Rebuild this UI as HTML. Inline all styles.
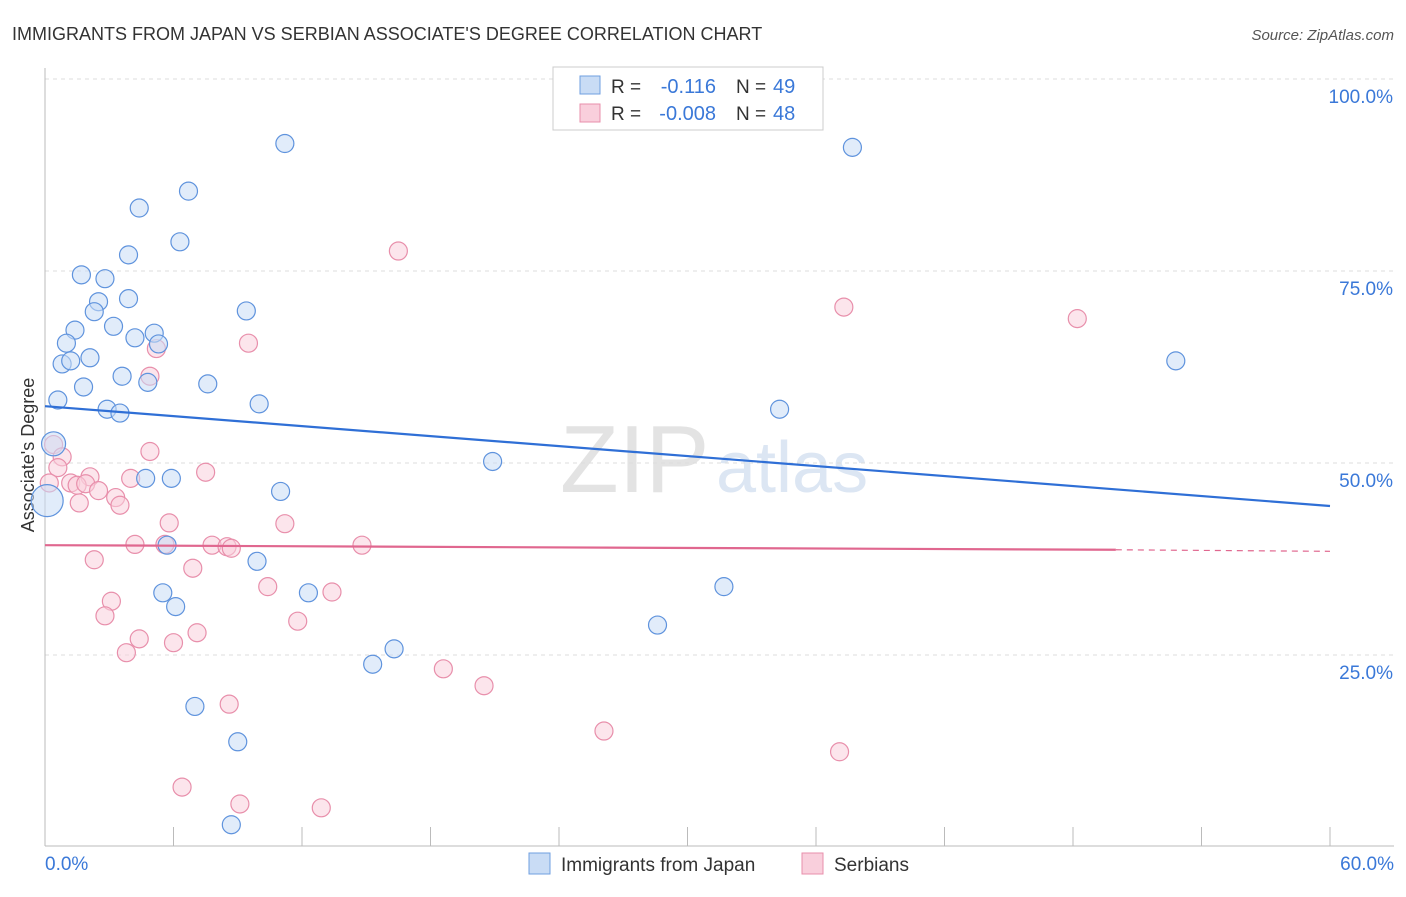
<!DOCTYPE html>
<html><head><meta charset="utf-8"><style>
body{margin:0;background:#fff;font-family:"Liberation Sans",sans-serif;}
svg text{font-family:"Liberation Sans",sans-serif;}
</style></head><body>
<svg id="chart" width="1406" height="892" xmlns="http://www.w3.org/2000/svg">
<text x="12" y="40" font-size="18" fill="#333">IMMIGRANTS FROM JAPAN VS SERBIAN ASSOCIATE'S DEGREE CORRELATION CHART</text>
<text x="1394" y="40" font-size="15" fill="#555" text-anchor="end" font-style="italic">Source: ZipAtlas.com</text>
<text x="560" y="492" font-size="96" fill="#e3e3e3" font-family="Liberation Serif">ZIP</text>
<text x="716" y="492" font-size="72" fill="#dce6f3">atlas</text>
<g id="grid"></g>
<g id="axes"></g>
<text transform="translate(34,455) rotate(-90)" font-size="18" fill="#333" text-anchor="middle">Associate's Degree</text>
<g id="marks"></g>
<g>
<rect x="553" y="67" width="270" height="63" fill="#fff" stroke="#ccc"/>
<rect x="580" y="76" width="20" height="18" fill="#c9dcf5" stroke="#6f9fe0"/>
<rect x="580" y="104" width="20" height="18" fill="#f9cfdc" stroke="#e88fab"/>
<text x="611" y="93" font-size="19" fill="#333">R = </text><text x="716" y="93" font-size="20" fill="#3a78d8" text-anchor="end">-0.116</text>
<text x="736" y="93" font-size="19" fill="#333">N = </text><text x="773" y="93" font-size="20" fill="#3a78d8">49</text>
<text x="611" y="120" font-size="19" fill="#333">R = </text><text x="716" y="120" font-size="20" fill="#3a78d8" text-anchor="end">-0.008</text>
<text x="736" y="120" font-size="19" fill="#333">N = </text><text x="773" y="120" font-size="20" fill="#3a78d8">48</text>
</g>
<g>
<rect x="529" y="853" width="21" height="21" fill="#c9dcf5" stroke="#6f9fe0"/>
<text x="561" y="871" font-size="19" fill="#333">Immigrants from Japan</text>
<rect x="802" y="853" width="21" height="21" fill="#f9cfdc" stroke="#e88fab"/>
<text x="834" y="871" font-size="19" fill="#333">Serbians</text>
</g>
</svg>
<script>
const yTicks=[100,75,50,25];
const xTickLabels=["0.0%","60.0%"];
const japanX=[11.2,37.7,6.7,4.4,6.3,3.9,1.7,2.8,2.5,3.9,2.3,9.4,3.2,1.4,5.1,1.0,4.2,5.3,0.8,1.2,2.1,3.6,4.8,7.6,1.8,0.6,2.9,3.5,10.0,34.3,52.8,0.4,20.9,4.7,5.9,11.0,0.1,5.7,9.9,5.5,12.3,6.1,31.7,28.6,16.3,15.3,7.0,9.0,8.7];
const japanY=[91.6,91.1,85.4,83.2,78.8,77.1,74.5,74.0,71.0,71.4,69.7,69.8,67.8,67.3,66.9,65.6,66.3,65.5,62.9,63.3,63.7,61.3,60.5,60.3,59.9,58.2,57.0,56.5,57.7,57.0,63.3,52.5,50.2,48.0,48.0,46.3,45.1,39.3,37.2,33.1,33.1,31.3,33.9,28.9,25.8,23.8,18.3,13.7,2.9];
const japanR=[9,9,9,9,9,9,9,9,9,9,9,9,9,9,9,9,9,9,9,9,9,9,9,9,9,9,9,9,9,9,9,12,9,9,9,9,16,9,9,9,9,9,9,9,9,9,9,9,9];
const serbX=[16.5,37.3,48.2,9.5,5.2,4.9,0.4,4.9,0.8,0.6,7.5,2.1,4.0,1.2,1.5,1.9,2.5,3.3,1.6,3.5,5.8,11.2,4.2,5.6,7.8,8.5,8.7,14.8,2.3,6.9,10.4,13.4,3.1,2.8,11.8,4.4,7.1,6.0,3.8,18.6,20.5,8.6,26.1,37.1,6.4,9.1,12.9,0.2];
const serbY=[77.6,70.3,68.8,65.6,64.9,61.3,52.4,51.5,50.8,49.4,48.8,48.2,48.0,47.4,47.1,47.3,46.4,45.5,44.8,44.5,42.2,42.1,39.4,39.4,39.3,39.1,38.9,39.3,37.4,36.3,33.9,33.2,32.0,30.1,29.4,27.1,27.9,26.6,25.3,23.2,21.0,18.6,15.1,12.4,7.8,5.6,5.1,47.4];
const W=1406,X0=45,X1=1330,Y100=79,Y0=847;
const xs=v=>X0+(X1-X0)*v/60, ys=v=>Y0-(Y0-Y100)*v/100;
const NS="http://www.w3.org/2000/svg";
function mk(t,a,p){const e=document.createElementNS(NS,t);for(const k in a)e.setAttribute(k,a[k]);p.appendChild(e);return e;}
const grid=document.getElementById('grid'),axes=document.getElementById('axes'),marks=document.getElementById('marks');
yTicks.forEach(v=>{
 const l=mk('line',{x1:X0,x2:1394,y1:ys(v),y2:ys(v),stroke:'#ddd','stroke-dasharray':'4,4'},grid);
 
 
 const t=mk('text',{x:1393,y:ys(v)+24,'font-size':19,fill:'#3a78d8','text-anchor':'end'},axes);
 t.textContent=v.toFixed(1)+'%';
 
 
});
mk('line',{x1:X0,x2:X0,y1:68,y2:846,stroke:'#bbb'},axes);
mk('line',{x1:X0,x2:1394,y1:846,y2:846,stroke:'#bbb'},axes);
for(let i=0;i<=10;i++){const x=xs(i*6);mk('line',{x1:x,x2:x,y1:827,y2:846,stroke:'#bbb'},axes);}
[[0,X0,'start'],[1,1394,'end']].forEach(([i,x,a])=>{const t=mk('text',{x:x,y:870,'font-size':19,fill:'#3a78d8','text-anchor':a},axes);t.textContent=xTickLabels[i];

});
function pts(X,Y,R,fill,stroke,name){X.forEach((v,i)=>{const c=mk('circle',{cx:xs(v),cy:ys(Y[i]),r:R?R[i]:9,fill:fill,stroke:stroke,'fill-opacity':0.55,'stroke-width':1.2},marks);

});}
pts(serbX,serbY,null,'#f9cfdc','#e88fab','serbian');
pts(japanX,japanY,japanR,'#c9dcf5','#5f93dd','japan');
const bl=mk('line',{x1:xs(0),y1:ys(57.4),x2:xs(60),y2:ys(44.4),stroke:'#2f6fd6','stroke-width':2.2},marks);


const pl=mk('line',{x1:xs(0),y1:ys(39.3),x2:xs(50),y2:ys(38.7),stroke:'#e0678f','stroke-width':2.2},marks);


const pd=mk('line',{x1:xs(50),y1:ys(38.7),x2:xs(60),y2:ys(38.5),stroke:'#e0678f','stroke-width':1.2,'stroke-dasharray':'6,5'},marks);


</script>
</body></html>
